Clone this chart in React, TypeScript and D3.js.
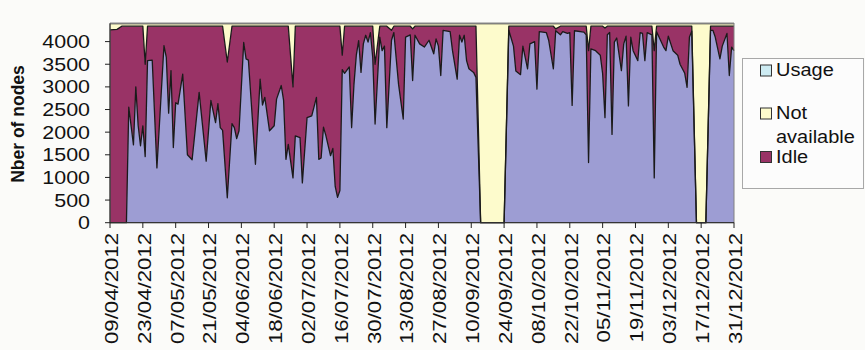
import React from "react";
import * as d3 from "d3";

const startDate = "09/04/2012";
// day offsets from 09/04/2012
const dayOffsets = [0,3,5,7,8,10,11,12,13,14,15,16,18,20,23,24,25,26,27,28,29,31,33,35,38,41,43,45,46,47,48,50,52,53,54,55,57,58,59,62,64,65,66,68,70,71,73,74,75,76,78,79,81,82,84,86,88,89,90,91,92,94,95,96,97,98,99,100,102,103,104,105,106,107,108,109,110,111,112,113,115,116,117,118,120,121,123,125,126,128,129,130,132,134,136,138,139,140,141,142,145,146,148,149,150,151,152,153,155,156,158,168,170,172,173,175,176,178,179,181,182,183,186,187,189,190,192,193,195,196,197,198,202,203,204,205,207,209,210,211,212,213,214,215,216,218,219,220,221,222,223,225,226,227,228,229,231,232,233,236,237,238,240,242,243,245,246,247,248,250,254,256,257,258,260,261,263,264,265,266];
const usage = [0,0,0,0,2550,1720,3000,2150,1700,2140,1460,3580,3590,1210,3910,3650,2420,3360,1660,2650,2620,3280,1500,1390,2880,1360,2700,2210,2630,2100,2040,550,2190,2100,1860,2030,3980,3620,3590,1290,3170,2600,2770,2030,2140,2730,3030,2700,1400,1730,990,1920,1880,880,2320,2360,2770,1400,1430,2110,1930,1480,1640,800,560,710,3380,3300,3440,2100,3060,3700,4020,3320,3950,4140,3990,4200,3650,2180,4100,3800,3900,2100,4030,4200,3060,2290,4100,4150,3140,4140,3950,3880,4030,3730,4060,3900,3250,4250,4220,3800,3170,4140,3990,4140,3580,3400,3320,3210,0,0,4250,3900,3350,3270,3900,3400,3950,4000,2950,4220,4200,4030,3400,4240,4150,4220,4180,4200,2590,4240,4210,4150,1330,3840,3800,3700,3290,2320,4150,4200,1950,3990,4080,3360,3950,4120,2580,4100,3800,3580,4200,4180,3580,4200,4150,990,4220,3880,3800,4120,3800,3700,3500,3300,2990,4100,4230,0,0,4250,4250,4100,3620,3900,4180,3250,3880,3800];
const notAvailable = [140,130,60,60,60,60,60,60,60,60,900,60,60,60,60,60,60,60,60,60,60,60,60,60,60,60,60,60,60,60,60,850,60,60,60,60,60,60,60,60,60,60,60,60,60,60,60,60,60,60,1400,60,60,60,60,60,60,60,60,60,60,60,60,60,60,60,700,60,60,60,60,60,60,60,60,60,60,60,60,900,60,60,60,60,150,60,60,60,60,60,120,60,60,60,60,60,60,60,60,60,60,60,60,60,60,60,60,60,60,60,4400,4400,60,60,60,60,60,60,60,60,60,60,60,60,60,120,60,60,60,60,60,60,60,60,600,60,60,60,60,100,60,60,60,60,60,60,60,60,60,60,60,60,60,60,60,60,60,600,60,60,60,60,60,60,60,60,60,60,60,4400,4400,60,60,60,60,60,60,60,60,60];
const idle = [4260,4270,4340,4340,1790,2620,1340,2190,2640,2200,2040,760,750,3130,430,690,1920,980,2680,1690,1720,1060,2840,2950,1460,2980,1640,2130,1710,2240,2300,3000,2150,2240,2480,2310,360,720,750,3050,1170,1740,1570,2310,2200,1610,1310,1640,2940,2610,2010,2420,2460,3460,2020,1980,1570,2940,2910,2230,2410,2860,2700,3540,3780,3630,320,1040,900,2240,1280,640,320,1020,390,200,350,140,690,1320,240,540,440,2240,220,140,1280,2050,240,190,1140,200,390,460,310,610,280,440,1090,90,120,540,1170,200,350,200,760,940,1020,1130,0,0,90,440,990,1070,440,940,390,340,1390,120,140,310,940,40,190,120,160,140,1750,100,130,190,2470,500,540,640,1050,1980,190,140,2390,350,260,980,390,220,1760,240,540,760,140,160,760,140,190,2810,120,460,540,220,540,640,840,1040,1350,240,110,0,0,90,90,240,720,440,160,1090,460,540];

const yTicks = [0, 500, 1000, 1500, 2000, 2500, 3000, 3500, 4000];
const xTickLabels = ["09/04/2012","23/04/2012","07/05/2012","21/05/2012","04/06/2012","18/06/2012","02/07/2012","16/07/2012","30/07/2012","13/08/2012","27/08/2012","10/09/2012","24/09/2012","08/10/2012","22/10/2012","05/11/2012","19/11/2012","03/12/2012","17/12/2012","31/12/2012"];
const seriesKeys = ["usage", "idle", "notAvailable"];
const seriesColors = ["#9d9dd3", "#993366", "#fdfbcc"];
const legendNames = ["Usage", "Not available", "Idle"];
const legendColors = ["#cdebf2", "#fdfbcc", "#993366"];

export default function App() {
  const W = 865, H = 350;
  const parse = d3.timeParse("%d/%m/%Y");
  const t0 = parse(startDate) as Date;
  const tEnd = parse(xTickLabels[xTickLabels.length - 1]) as Date;
  const x = d3.scaleTime().domain([t0, tEnd]).range([110, 734]);
  const y = d3.scaleLinear().domain([0, 4400]).range([222.7, 23.5]);

  const rows = dayOffsets.map((d, i) => ({
    date: d3.timeDay.offset(t0, d),
    usage: usage[i],
    idle: idle[i],
    notAvailable: notAvailable[i],
  }));
  const stacked = d3.stack<any>().keys(seriesKeys)(rows);
  const area = d3.area<any>()
    .x((d) => x(d.data.date))
    .y0((d) => y(d[0]))
    .y1((d) => y(d[1]));
  const topLine = d3.line<any>()
    .x((d) => x(d.data.date))
    .y((d) => y(d[1]));

  const font = "'Liberation Sans', Arial, sans-serif";

  return (
    <svg width={W} height={H} style={{ position: "absolute", left: 0, top: 0, background: "#fbfbf9" }}>
      <rect x={0} y={0} width={W} height={H} fill="#fbfbf9" />
      {stacked.map((s, i) => (
        <path key={s.key} d={area(s) as string} fill={seriesColors[i]} stroke="none" />
      ))}
      {stacked.map((s, i) => (
        <path key={"l" + s.key} d={topLine(s) as string} fill="none" stroke="#1a1a1a" strokeWidth={1.3} strokeLinejoin="round" />
      ))}
      {/* frame */}
      <rect x={110} y={23.5} width={624} height={199.2} fill="none" stroke="#808080" strokeWidth={1} />
      <line x1={110} x2={110} y1={23.5} y2={222.7} stroke="#222" strokeWidth={1} />
      <line x1={110} x2={734} y1={222.7} y2={222.7} stroke="#222" strokeWidth={1} />
      {/* y ticks */}
      {yTicks.map((t) => (
        <g key={"y" + t}>
          <line x1={105} x2={110} y1={y(t)} y2={y(t)} stroke="#222" />
          <text
            transform={`translate(90,${y(t)}) scale(1.16,1)`}
            textAnchor="end"
            dominantBaseline="central"
            fontFamily={font}
            fontSize={18.5}
            fill="#111"
          >
            {t}
          </text>
        </g>
      ))}
      {/* x ticks */}
      {xTickLabels.map((lab) => {
        const xv = x(parse(lab) as Date);
        return (
          <g key={lab}>
            <line x1={xv} x2={xv} y1={222.7} y2={228} stroke="#222" />
            <text
              transform={`translate(${xv + 1.5},233) rotate(-90) scale(1.2,1)`}
              textAnchor="end"
              dominantBaseline="central"
              fontFamily={font}
              fontSize={18.5}
              fill="#111"
            >
              {lab}
            </text>
          </g>
        );
      })}
      {/* y title */}
      <text
        transform="translate(23.5,124) rotate(-90)"
        textAnchor="middle"
        fontFamily={font}
        fontWeight="bold"
        fontSize={17.5}
        fill="#111"
      >
        Nber of nodes
      </text>
      {/* legend */}
      <rect x={742.5} y={58.5} width={121} height={130} fill="#fcfcfc" stroke="#a8a8a8" strokeWidth={1} />
      {[
        { sy: 65, lines: ["Usage"], by: 75.5 },
        { sy: 108, lines: ["Not", "available"], by: 119 },
        { sy: 151.5, lines: ["Idle"], by: 162.5 },
      ].map((it, i) => (
        <g key={legendNames[i]}>
          <rect x={760.5} y={it.sy} width={11} height={11} fill={legendColors[i]} stroke="#333" strokeWidth={1} />
          {it.lines.map((ln, j) => (
            <text
              key={ln}
              transform={`translate(776,${it.by + j * 23.5}) scale(1.08,1)`}
              fontFamily={font}
              fontSize={18.5}
              fill="#111"
            >
              {ln}
            </text>
          ))}
        </g>
      ))}
    </svg>
  );
}
